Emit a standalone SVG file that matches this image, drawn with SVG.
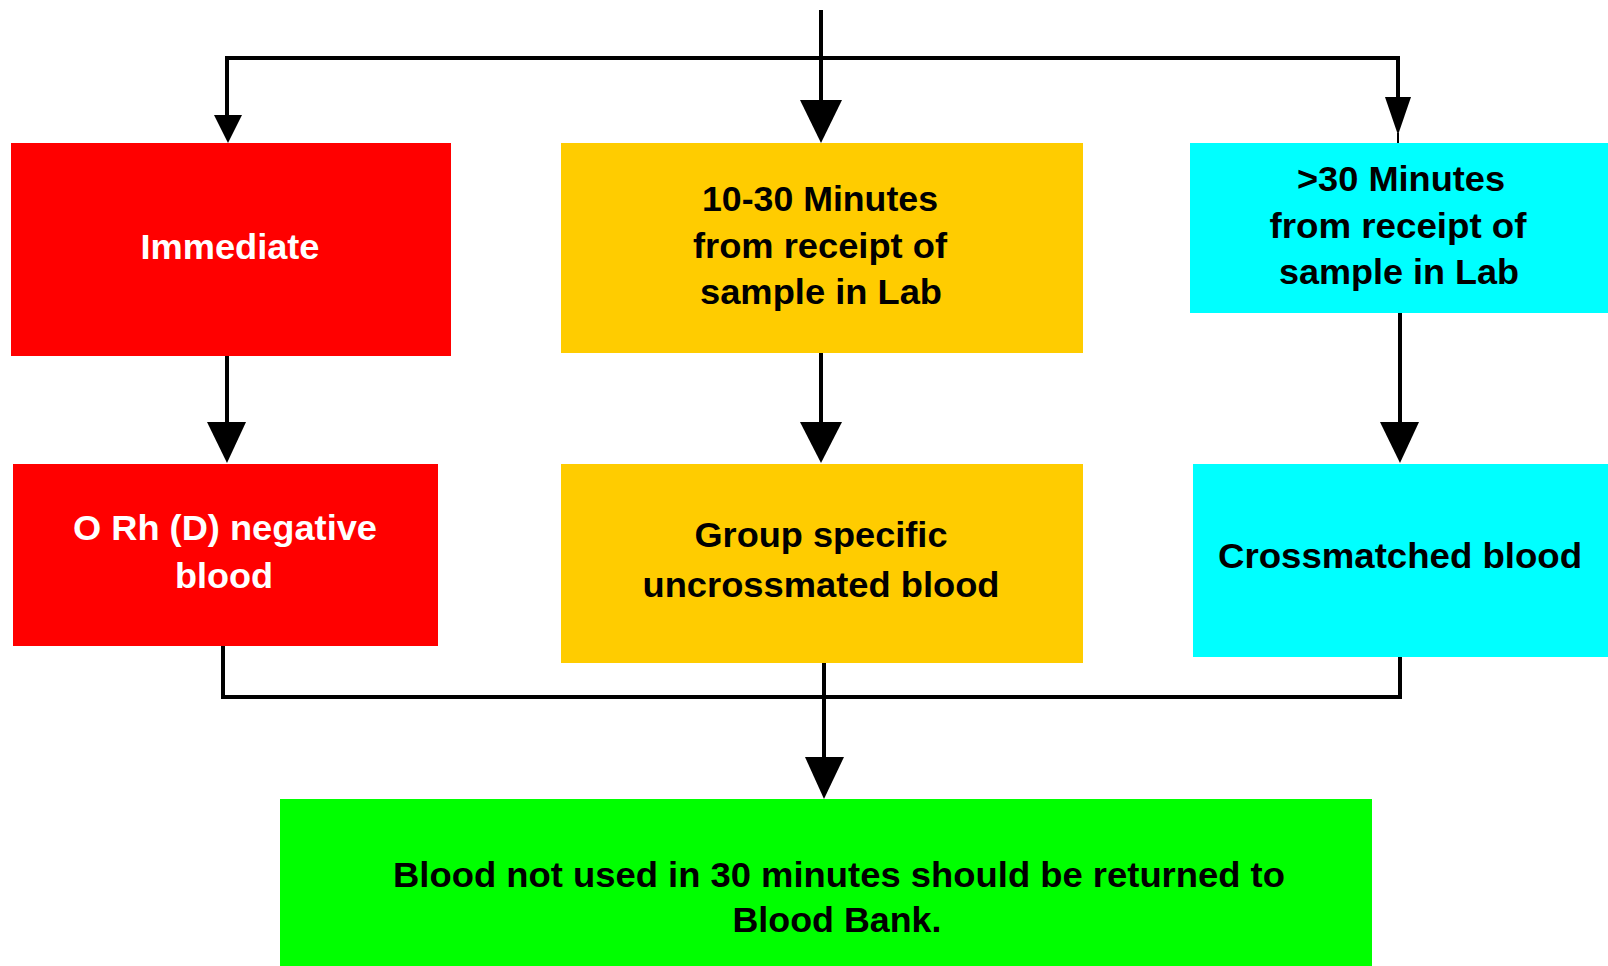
<svg xmlns="http://www.w3.org/2000/svg" width="1608" height="966" viewBox="0 0 1608 966">
<style>
.lbl{font-family:"Liberation Sans",Arial,sans-serif;font-weight:bold;font-size:35px;text-anchor:middle}
.w{fill:#FFFFFF}
.k{fill:#000000}
.red{fill:#FF0000}
.yel{fill:#FFCC00}
.cya{fill:#00FFFF}
.grn{fill:#00FF00}
.ln{stroke:#000;stroke-width:4;fill:none}
.ah{fill:#000}
</style>
<rect width="1608" height="966" fill="#FFFFFF"/>
<g id="connectors">
<path class="ln" d="M821,10 V102"/>
<path class="ln" d="M227,58 H1398 M227,56 V117 M1398,56 V99"/>
<polygon class="ah" points="800,100 842,100 821,143"/>
<polygon class="ah" points="214,115 242,115 228,143"/>
<polygon class="ah" points="1385,97 1411,97 1398,135"/>
<path class="ln" d="M1398,133 V143" style="stroke-width:2"/>
<path class="ln" d="M227,350 V424 M821,350 V424 M1400,310 V424"/>
<polygon class="ah" points="207,422 246,422 227,463"/>
<polygon class="ah" points="800,422 842,422 821,463"/>
<polygon class="ah" points="1380,422 1419,422 1400,463"/>
<path class="ln" d="M223,644 V697 H1400 V655 M824,660 V759"/>
<polygon class="ah" points="805,757 844,757 824,799"/>
</g>
<g id="immediate">
<rect class="red" x="11" y="143" width="440" height="213"/>
<text class="lbl w" x="230" y="259" textLength="179" lengthAdjust="spacingAndGlyphs">Immediate</text>
</g>
<g id="ten-thirty">
<rect class="yel" x="561" y="143" width="522" height="210"/>
<text class="lbl k" x="820" y="211" textLength="236" lengthAdjust="spacingAndGlyphs">10-30 Minutes</text>
<text class="lbl k" x="820" y="258" textLength="254" lengthAdjust="spacingAndGlyphs">from receipt of</text>
<text class="lbl k" x="821" y="304" textLength="242" lengthAdjust="spacingAndGlyphs">sample in Lab</text>
</g>
<g id="over-thirty">
<rect class="cya" x="1190" y="143" width="418" height="170"/>
<text class="lbl k" x="1401" y="191" textLength="208" lengthAdjust="spacingAndGlyphs">&gt;30 Minutes</text>
<text class="lbl k" x="1398" y="238" textLength="257" lengthAdjust="spacingAndGlyphs">from receipt of</text>
<text class="lbl k" x="1399" y="284" textLength="240" lengthAdjust="spacingAndGlyphs">sample in Lab</text>
</g>
<g id="o-neg">
<rect class="red" x="13" y="464" width="425" height="182"/>
<text class="lbl w" x="225" y="540" textLength="304" lengthAdjust="spacingAndGlyphs">O Rh (D) negative</text>
<text class="lbl w" x="224" y="588" textLength="98" lengthAdjust="spacingAndGlyphs">blood</text>
</g>
<g id="group-specific">
<rect class="yel" x="561" y="464" width="522" height="199"/>
<text class="lbl k" x="821" y="547" textLength="253" lengthAdjust="spacingAndGlyphs">Group specific</text>
<text class="lbl k" x="821" y="597" textLength="357" lengthAdjust="spacingAndGlyphs">uncrossmated blood</text>
</g>
<g id="crossmatched">
<rect class="cya" x="1193" y="464" width="415" height="193"/>
<text class="lbl k" x="1400" y="568" textLength="364" lengthAdjust="spacingAndGlyphs">Crossmatched blood</text>
</g>
<g id="return">
<rect class="grn" x="280" y="799" width="1092" height="167"/>
<text class="lbl k" x="839" y="887" textLength="892" lengthAdjust="spacingAndGlyphs">Blood not used in 30 minutes should be returned to</text>
<text class="lbl k" x="837" y="932" textLength="209" lengthAdjust="spacingAndGlyphs">Blood Bank.</text>
</g>
</svg>
